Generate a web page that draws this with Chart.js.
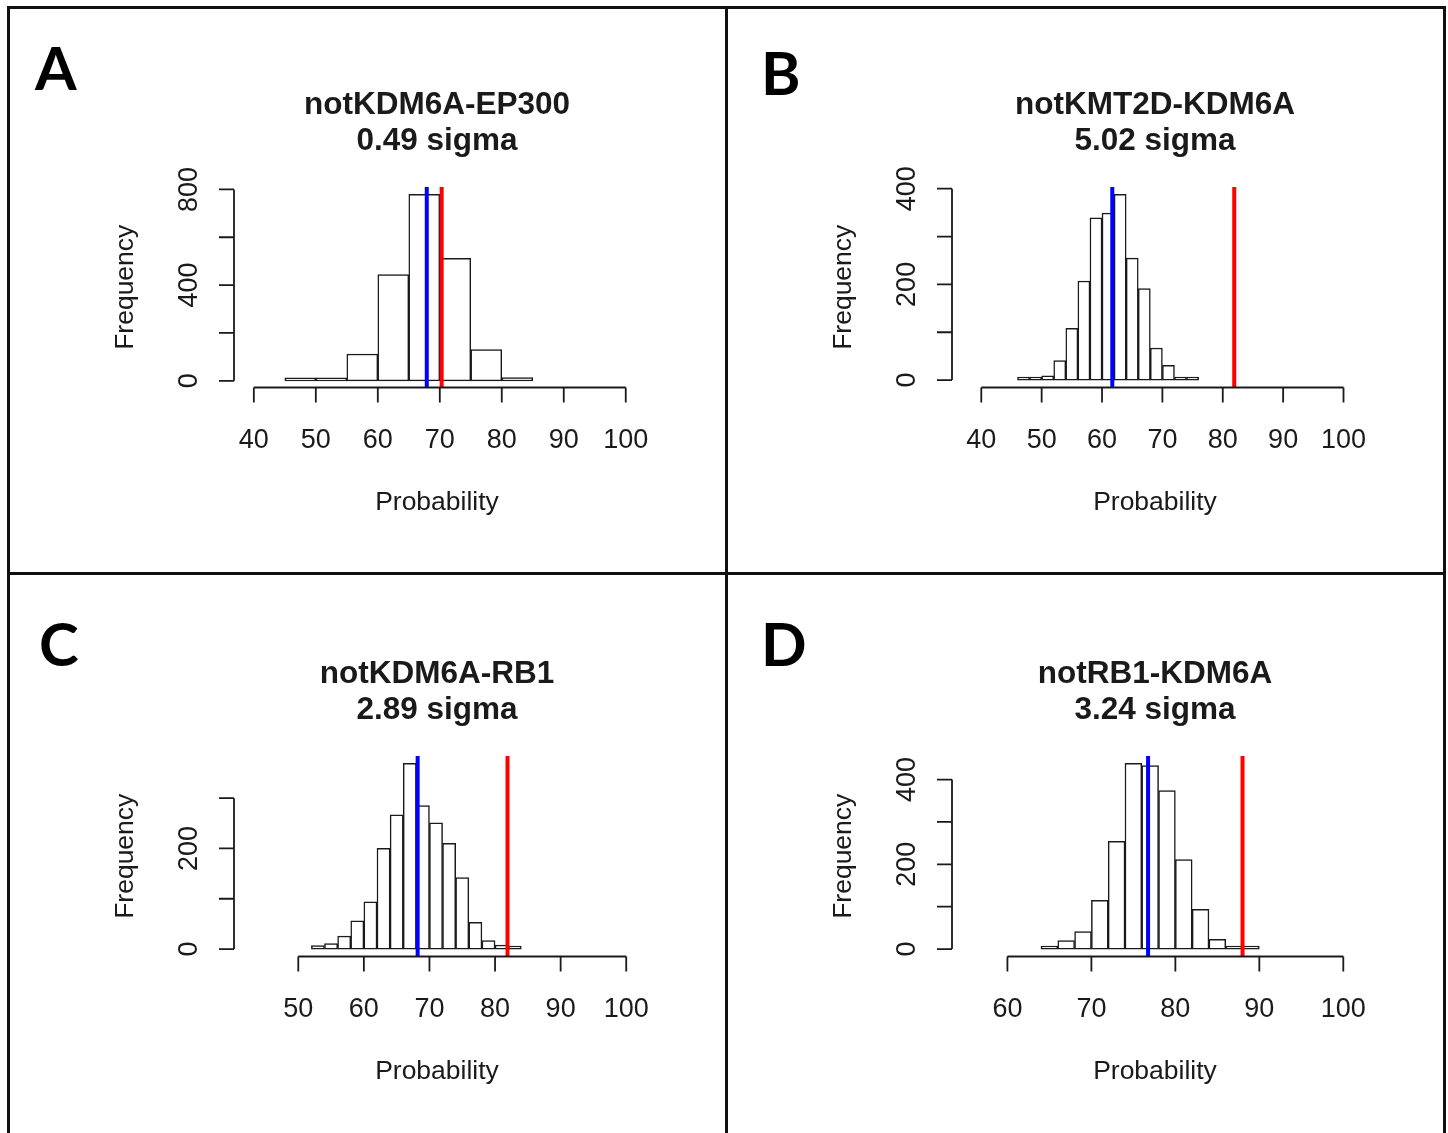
<!DOCTYPE html>
<html>
<head>
<meta charset="utf-8">
<script src="https://cdn.jsdelivr.net/npm/chart.js@4.4.0/dist/chart.umd.min.js"></script>
<style>
  body { margin: 0; background: #fff; }
  #page { position: relative; width: 1448px; height: 1133px; overflow: hidden; background: #fff; }
  .panel { position: absolute; width: 718px; height: 569px; }
  .rule { position: absolute; background: #111; z-index: 2; }
</style>
</head>
<body>
<div id="page">
  <div class="panel" style="left:8px;top:8px"><canvas id="chartA" width="718" height="569"></canvas></div>
  <div class="panel" style="left:726px;top:8px"><canvas id="chartB" width="718" height="569"></canvas></div>
  <div class="panel" style="left:8px;top:577px"><canvas id="chartC" width="718" height="569"></canvas></div>
  <div class="panel" style="left:726px;top:577px"><canvas id="chartD" width="718" height="569"></canvas></div>
  <div class="rule" style="left:7px;top:6px;width:1439px;height:3px"></div>
  <div class="rule" style="left:7px;top:6px;width:3px;height:1200px"></div>
  <div class="rule" style="left:1443px;top:6px;width:3px;height:1200px"></div>
  <div class="rule" style="left:725px;top:6px;width:3px;height:1200px"></div>
  <div class="rule" style="left:7px;top:572px;width:1439px;height:3px"></div>
</div>
<script>
// A: notKDM6A-EP300
const breaksA = [45, 50, 55, 60, 65, 70, 75, 80, 85];
const countsA = [2, 11, 112, 444, 779, 512, 130, 13];
const meanA = 67.9;
const observedA = 70.3;
const xTicksA = [40, 50, 60, 70, 80, 90, 100];
const yTicksA = [0, 200, 400, 600, 800];
const yLabelsA = [0, 400, 800];

// B: notKMT2D-KDM6A
const breaksB = [46, 48, 50, 52, 54, 56, 58, 60, 62, 64, 66, 68, 70, 72, 74, 76];
const countsB = [1, 1, 9, 41, 108, 207, 339, 349, 388, 255, 191, 67, 31, 6, 1];
const meanB = 61.7;
const observedB = 81.9;
const xTicksB = [40, 50, 60, 70, 80, 90, 100];
const yTicksB = [0, 100, 200, 300, 400];
const yLabelsB = [0, 200, 400];

// C: notKDM6A-RB1
const breaksC = [52, 54, 56, 58, 60, 62, 64, 66, 68, 70, 72, 74, 76, 78, 80, 82, 84];
const countsC = [7, 11, 26, 56, 94, 200, 267, 369, 285, 251, 210, 142, 53, 17, 8, 3];
const meanC = 68.2;
const observedC = 81.9;
const xTicksC = [50, 60, 70, 80, 90, 100];
const yTicksC = [0, 100, 200, 300];
const yLabelsC = [0, 200];

// D: notRB1-KDM6A
const breaksD = [64, 66, 68, 70, 72, 74, 76, 78, 80, 82, 84, 86, 88, 90];
const countsD = [3, 20, 41, 115, 254, 438, 433, 374, 211, 94, 23, 5, 3];
const meanD = 76.75;
const observedD = 88.0;
const xTicksD = [60, 70, 80, 90, 100];
const yTicksD = [0, 100, 200, 300, 400];
const yLabelsD = [0, 200, 400];

const ink = '#1a1a1a';

// R-style axes: lines only span first..last tick, labels drawn parallel to axis
const rAxes = {
  id: 'rAxes',
  afterDraw(chart) {
    const o = chart.options.plugins.rAxes;
    const { ctx, chartArea: a, scales: { x, y } } = chart;
    ctx.save();
    ctx.strokeStyle = ink;
    ctx.fillStyle = ink;
    ctx.lineWidth = 1.8;

    const xs = x.ticks.map(t => x.getPixelForValue(t.value));
    const ys = y.ticks.map(t => y.getPixelForValue(t.value));
    ctx.beginPath();
    ctx.moveTo(xs[0], a.bottom);
    ctx.lineTo(xs[xs.length - 1], a.bottom);
    xs.forEach(px => { ctx.moveTo(px, a.bottom); ctx.lineTo(px, a.bottom + 15); });
    ctx.moveTo(a.left, ys[0]);
    ctx.lineTo(a.left, ys[ys.length - 1]);
    ys.forEach(py => { ctx.moveTo(a.left, py); ctx.lineTo(a.left - 15, py); });
    ctx.stroke();

    ctx.font = '27px "Liberation Sans", Arial, sans-serif';
    ctx.textAlign = 'center';
    ctx.textBaseline = 'alphabetic';
    x.ticks.forEach(t => ctx.fillText(String(t.value), x.getPixelForValue(t.value), a.bottom + 60));
    o.yLabels.forEach(v => {
      ctx.save();
      ctx.translate(a.left - 37, y.getPixelForValue(v));
      ctx.rotate(-Math.PI / 2);
      ctx.fillText(String(v), 0, 0);
      ctx.restore();
    });

    const cx = (a.left + a.right) / 2;
    ctx.font = '26.5px "Liberation Sans", Arial, sans-serif';
    ctx.fillText('Probability', cx, a.bottom + 122);
    ctx.save();
    ctx.translate(a.left - 101, (a.top + a.bottom) / 2);
    ctx.rotate(-Math.PI / 2);
    ctx.fillText('Frequency', 0, 0);
    ctx.restore();

    ctx.font = 'bold 31.5px "Liberation Sans", Arial, sans-serif';
    ctx.fillText(o.title[0], cx, 106);
    ctx.fillText(o.title[1], cx, 142);

    ctx.textAlign = 'left';
    ctx.fillStyle = '#000';
    ctx.font = 'bold 60px Lato, "Open Sans", sans-serif';
    ctx.fillText(o.letter, o.letterAt[0], o.letterAt[1]);
    ctx.restore();
  }
};

function vline(v, yRange, color) {
  return {
    type: 'line',
    data: [{ x: v, y: yRange[0] }, { x: v, y: yRange[1] }],
    borderColor: color,
    borderWidth: 4,
    pointRadius: 0,
    order: 1
  };
}

function makeHist(id, p) {
  const bins = p.counts.map((c, i) => ({ x: (p.breaks[i] + p.breaks[i + 1]) / 2, y: c }));
  new Chart(document.getElementById(id), {
    type: 'bar',
    data: {
      datasets: [
        vline(p.observed, p.yRange, '#ff0000'),
        vline(p.mean, p.yRange, '#0000ff'),
        {
          type: 'bar',
          data: bins,
          backgroundColor: '#ffffff',
          borderColor: ink,
          borderWidth: 1.5,
          borderSkipped: false,
          minBarLength: 3,
          barPercentage: 1,
          categoryPercentage: 1,
          order: 2
        }
      ]
    },
    options: {
      responsive: false,
      animation: false,
      devicePixelRatio: 1,
      layout: { padding: { left: 226, right: 86, top: 179, bottom: 189.5 } },
      scales: {
        x: {
          type: 'linear', display: false, offset: false, min: p.xRange[0], max: p.xRange[1],
          afterBuildTicks: s => { s.ticks = p.xTicks.map(v => ({ value: v })); }
        },
        y: {
          type: 'linear', display: false, min: p.yRange[0], max: p.yRange[1],
          afterBuildTicks: s => { s.ticks = p.yTicks.map(v => ({ value: v })); }
        }
      },
      plugins: {
        legend: { display: false },
        tooltip: { enabled: false },
        rAxes: { title: p.title, letter: p.letter, letterAt: p.letterAt, yLabels: p.yLabels }
      }
    },
    plugins: [rAxes]
  });
}

makeHist('chartA', {
  letter: 'A', letterAt: [27, 82], title: ['notKDM6A-EP300', '0.49 sigma'],
  breaks: breaksA, counts: countsA, mean: meanA, observed: observedA,
  xTicks: xTicksA, yTicks: yTicksA, yLabels: yLabelsA,
  xRange: [36.8, 102.3], yRange: [-28, 810]
});
makeHist('chartB', {
  letter: 'B', letterAt: [35, 87], title: ['notKMT2D-KDM6A', '5.02 sigma'],
  breaks: breaksB, counts: countsB, mean: meanB, observed: observedB,
  xTicks: xTicksB, yTicks: yTicksB, yLabels: yLabelsB,
  xRange: [35.15, 102.4], yRange: [-15.5, 403.5]
});
makeHist('chartC', {
  letter: 'C', letterAt: [31, 89], title: ['notKDM6A-RB1', '2.89 sigma'],
  breaks: breaksC, counts: countsC, mean: meanC, observed: observedC,
  xTicks: xTicksC, yTicks: yTicksC, yLabels: yLabelsC,
  xRange: [40.2, 102.1], yRange: [-14.8, 383.8]
});
makeHist('chartD', {
  letter: 'D', letterAt: [35, 89], title: ['notRB1-KDM6A', '3.24 sigma'],
  breaks: breaksD, counts: countsD, mean: meanD, observed: observedD,
  xTicks: xTicksD, yTicks: yTicksD, yLabels: yLabelsD,
  xRange: [53.4, 101.75], yRange: [-17.5, 455.5]
});
</script>
</body>
</html>
